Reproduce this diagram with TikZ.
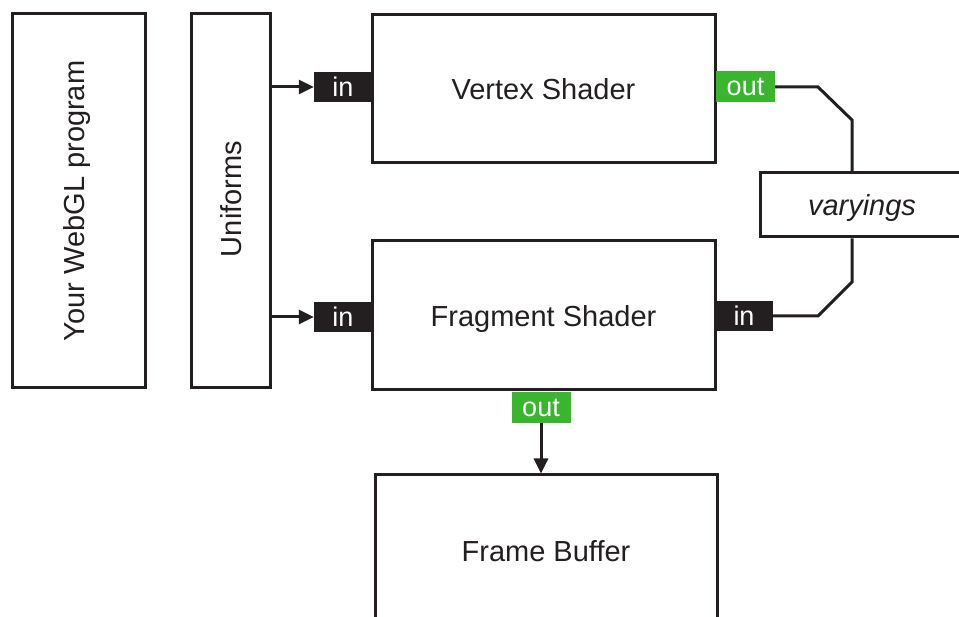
\documentclass[tikz,border=0pt]{standalone}
\usepackage{fontspec}
\setmainfont{Liberation Sans}
\usetikzlibrary{arrows.meta}
\definecolor{ink}{RGB}{35,31,32}
\definecolor{outgreen}{RGB}{57,181,46}
\tikzset{
  box/.style={draw=ink, line width=3pt, fill=white, text=ink, font=\fontsize{29}{34}\selectfont, inner sep=0pt, text depth=0pt},
  inlabel/.style={fill=ink, text=white, font=\fontsize{27}{30}\selectfont, minimum width=58pt, minimum height=30pt, inner sep=0pt},
  outlabel/.style={fill=outgreen, text=white, font=\fontsize{27}{30}\selectfont, minimum width=59pt, minimum height=31pt, inner sep=0pt},
  conn/.style={draw=ink, line width=3pt},
  arr/.style={conn, -{Triangle[length=15pt,width=14pt]}}
}
\begin{document}
\begin{tikzpicture}[x=1pt,y=-1pt]
\useasboundingbox (0,0) rectangle (959,617);
\clip (0,0) rectangle (959,617);
\fill[white] (0,0) rectangle (959,617);
% main boxes
\node[box, minimum width=133pt, minimum height=374pt] (prog) at (78.5,201) {};
\node[text=ink, font=\fontsize{29}{34}\selectfont, rotate=90] (progtext) at (77,201) {Your WebGL program};
\node[box, minimum width=79pt, minimum height=374pt] (unif) at (230.5,201) {};
\node[text=ink, font=\fontsize{29}{34}\selectfont, rotate=90] (uniftext) at (231,199) {Uniforms};
\node[box, minimum width=343pt, minimum height=148pt] (vs) at (543.5,89) {Vertex Shader};
\node[box, minimum width=343pt, minimum height=149pt] (fs) at (543.5,315.5) {Fragment Shader};
\node[box, minimum width=342pt, minimum height=152pt] (fb) at (546,551) {Frame Buffer};
\node[box, minimum width=204pt, minimum height=64pt, font=\fontsize{29}{34}\selectfont\itshape] (vary) at (862,205) {varyings};
% port labels
\node[inlabel] (vsin) at (343,87) {in};
\node[inlabel] (fsin) at (343,317) {in};
\node[inlabel] (fsinr) at (744,316) {in};
\node[outlabel] (vsout) at (745.5,87) {out};
\node[outlabel] (fsout) at (541,407.5) {out};
% connectors
\draw[arr] (unif.east |- vsin) -- (vsin.west);
\draw[arr] (unif.east |- fsin) -- (fsin.west);
\draw[arr] (fsout.south) -- (fb.north -| fsout.south);
\coordinate (v1) at (818,87);
\coordinate (v2) at (852,120);
\coordinate (v3) at (852,282);
\coordinate (v4) at (818,316);
\draw[conn] (vsout.east) -- (v1) -- (v2) -- (v2 |- vary.north);
\draw[conn] (v3 |- vary.south) -- (v3) -- (v4) -- (fsinr.east);
\end{tikzpicture}
\end{document}
